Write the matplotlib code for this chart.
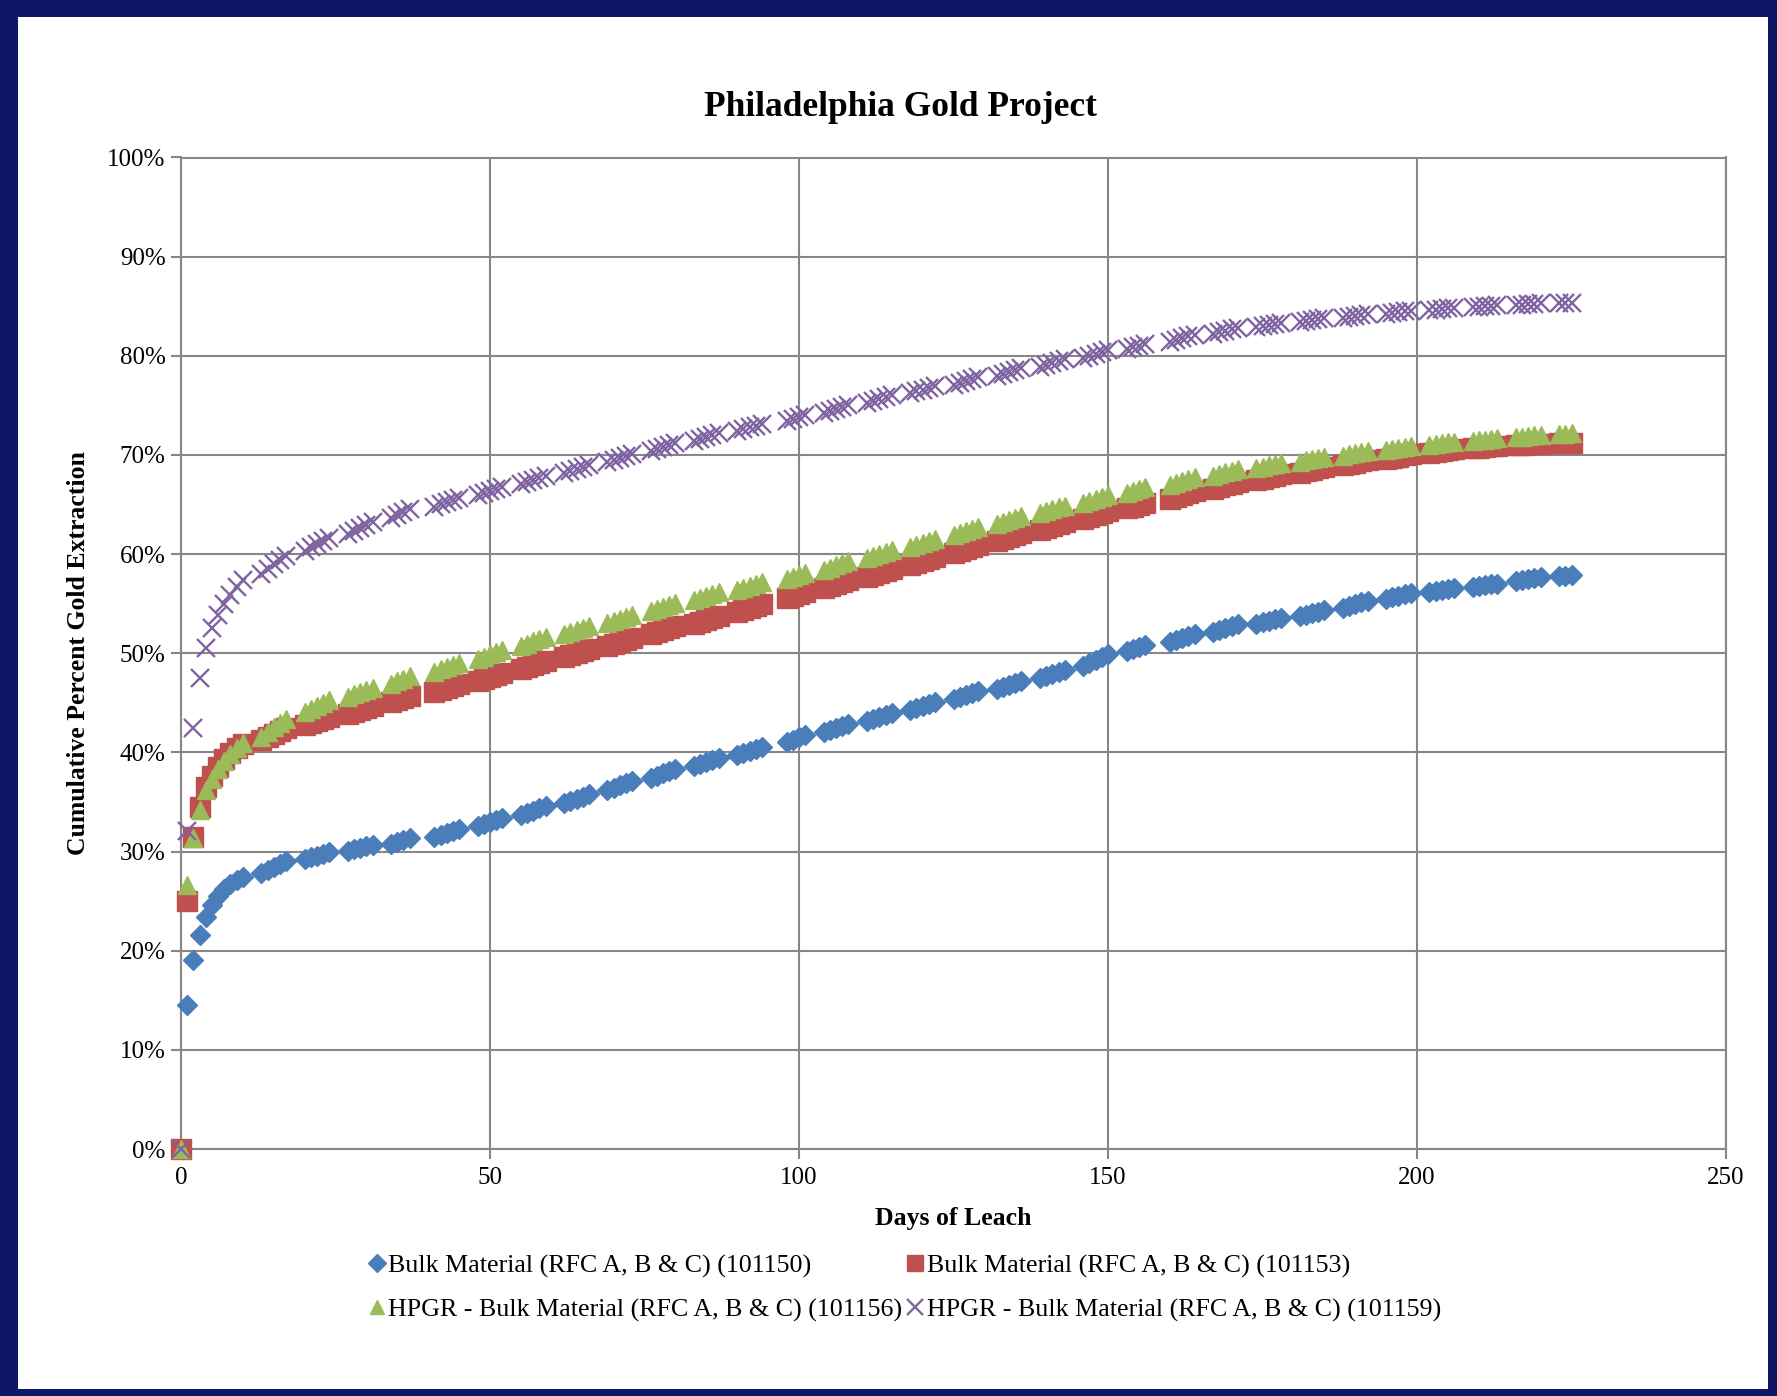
import matplotlib.pyplot as plt
from matplotlib.patches import Rectangle
from matplotlib.ticker import MultipleLocator, FuncFormatter

# Days of leach (same schedule for all four columns)
days = [
    0, 1, 2, 3, 4, 5, 6, 7, 8, 9, 10,
    13, 14, 15, 16, 17,
    20, 21, 22, 23, 24,
    27, 28, 29, 30, 31,
    34, 35, 36, 37,
    41, 42, 43, 44, 45,
    48, 49, 50, 51, 52,
    55, 56, 57, 58, 59,
    62, 63, 64, 65, 66,
    69, 70, 71, 72, 73,
    76, 77, 78, 79, 80,
    83, 84, 85, 86, 87,
    90, 91, 92, 93, 94,
    98, 99, 100, 101,
    104, 105, 106, 107, 108,
    111, 112, 113, 114, 115,
    118, 119, 120, 121, 122,
    125, 126, 127, 128, 129,
    132, 133, 134, 135, 136,
    139, 140, 141, 142, 143,
    146, 147, 148, 149, 150,
    153, 154, 155, 156,
    160, 161, 162, 163, 164,
    167, 168, 169, 170, 171,
    174, 175, 176, 177, 178,
    181, 182, 183, 184, 185,
    188, 189, 190, 191, 192,
    195, 196, 197, 198, 199,
    202, 203, 204, 205, 206,
    209, 210, 211, 212, 213,
    216, 217, 218, 219, 220,
    223, 224, 225,
]

# Cumulative percent gold extraction, column 101150
bulk_101150 = [
    0.0, 14.5, 19.1, 21.6, 23.4, 24.6, 25.5, 26.2, 26.7, 27.1, 27.4,
    27.8, 28.1, 28.4, 28.7, 29.0,
    29.2, 29.4, 29.6, 29.8, 30.0,
    30.1, 30.3, 30.4, 30.6, 30.7,
    30.8, 31.0, 31.2, 31.4,
    31.5, 31.7, 31.9, 32.1, 32.3,
    32.6, 32.8, 33.0, 33.2, 33.4,
    33.7, 33.9, 34.1, 34.4, 34.6,
    34.9, 35.1, 35.3, 35.5, 35.8,
    36.2, 36.4, 36.7, 36.9, 37.1,
    37.4, 37.6, 37.9, 38.1, 38.3,
    38.6, 38.8, 39.0, 39.2, 39.4,
    39.7, 39.9, 40.1, 40.3, 40.5,
    41.0, 41.3, 41.6, 41.8,
    42.1, 42.3, 42.5, 42.7, 42.9,
    43.2, 43.4, 43.6, 43.8, 44.0,
    44.3, 44.5, 44.7, 44.9, 45.1,
    45.4, 45.6, 45.8, 46.0, 46.2,
    46.4, 46.6, 46.8, 47.0, 47.2,
    47.5, 47.7, 47.9, 48.1, 48.3,
    48.7, 49.0, 49.3, 49.6, 49.9,
    50.2, 50.4, 50.6, 50.8,
    51.1, 51.3, 51.5, 51.7, 51.9,
    52.1, 52.3, 52.5, 52.7, 52.9,
    53.0, 53.2, 53.3, 53.5, 53.6,
    53.8, 53.9, 54.1, 54.2, 54.4,
    54.6, 54.8, 55.0, 55.2, 55.3,
    55.5, 55.7, 55.8, 56.0, 56.1,
    56.2, 56.3, 56.4, 56.5, 56.6,
    56.7, 56.8, 56.9, 57.0, 57.0,
    57.3, 57.4, 57.5, 57.6, 57.7,
    57.8, 57.8, 57.9,
]

# column 101153
bulk_101153 = [
    0.0, 25.0, 31.5, 34.5, 36.5, 37.6, 38.5, 39.3, 39.9, 40.4, 40.8,
    41.3, 41.6, 41.9, 42.2, 42.5,
    42.8, 43.0, 43.2, 43.4, 43.6,
    43.9, 44.1, 44.3, 44.5, 44.7,
    45.1, 45.3, 45.5, 45.7,
    46.1, 46.3, 46.5, 46.7, 46.9,
    47.2, 47.4, 47.6, 47.8, 48.0,
    48.4, 48.6, 48.8, 49.0, 49.2,
    49.6, 49.8, 50.0, 50.2, 50.4,
    50.7, 50.9, 51.1, 51.3, 51.5,
    51.9, 52.1, 52.3, 52.5, 52.7,
    53.0, 53.2, 53.4, 53.6, 53.8,
    54.2, 54.4, 54.6, 54.8, 55.0,
    55.6, 55.8, 56.0, 56.2,
    56.6, 56.8, 57.0, 57.2, 57.4,
    57.7, 57.9, 58.1, 58.3, 58.5,
    58.9, 59.1, 59.3, 59.5, 59.7,
    60.1, 60.3, 60.5, 60.7, 60.9,
    61.3, 61.5, 61.7, 61.9, 62.1,
    62.4, 62.6, 62.8, 63.0, 63.2,
    63.5, 63.7, 63.9, 64.1, 64.3,
    64.6, 64.8, 65.0, 65.2,
    65.6, 65.8, 66.0, 66.2, 66.4,
    66.6, 66.8, 67.0, 67.1, 67.3,
    67.5, 67.6, 67.8, 67.9, 68.1,
    68.2, 68.4, 68.5, 68.7, 68.8,
    69.0, 69.1, 69.2, 69.4, 69.5,
    69.6, 69.7, 69.8, 70.0, 70.1,
    70.2, 70.3, 70.4, 70.5, 70.6,
    70.7, 70.7, 70.8, 70.9, 70.9,
    71.0, 71.0, 71.1, 71.1, 71.1,
    71.2, 71.2, 71.2,
]

# column 101156 (HPGR)
hpgr_101156 = [
    0.0, 26.6, 31.4, 34.2, 36.2, 37.3, 38.3, 39.1, 39.8, 40.4, 40.9,
    41.6, 42.1, 42.6, 43.0, 43.4,
    44.1, 44.4, 44.7, 45.0, 45.3,
    45.6, 45.9, 46.1, 46.3, 46.5,
    46.9, 47.2, 47.4, 47.7,
    48.1, 48.4, 48.6, 48.8, 49.0,
    49.4, 49.6, 49.9, 50.1, 50.3,
    50.7, 50.9, 51.2, 51.4, 51.6,
    51.9, 52.1, 52.3, 52.5, 52.7,
    53.1, 53.3, 53.5, 53.7, 53.9,
    54.3, 54.5, 54.7, 54.9, 55.1,
    55.4, 55.6, 55.8, 56.0, 56.2,
    56.4, 56.6, 56.8, 57.0, 57.2,
    57.5, 57.7, 57.9, 58.1,
    58.4, 58.6, 58.9, 59.1, 59.3,
    59.6, 59.8, 60.0, 60.2, 60.4,
    60.7, 60.9, 61.1, 61.3, 61.5,
    61.9, 62.1, 62.3, 62.5, 62.7,
    63.0, 63.2, 63.4, 63.6, 63.8,
    64.1, 64.3, 64.5, 64.7, 64.9,
    65.2, 65.4, 65.6, 65.8, 66.0,
    66.2, 66.4, 66.6, 66.8,
    67.0, 67.2, 67.4, 67.6, 67.8,
    67.9, 68.1, 68.3, 68.4, 68.6,
    68.7, 68.8, 69.0, 69.1, 69.2,
    69.3, 69.5, 69.6, 69.7, 69.8,
    69.9, 70.1, 70.2, 70.3, 70.4,
    70.5, 70.6, 70.7, 70.8, 70.9,
    71.0, 71.1, 71.2, 71.3, 71.3,
    71.4, 71.5, 71.5, 71.6, 71.7,
    71.8, 71.8, 71.9, 72.0, 72.0,
    72.1, 72.1, 72.2,
]

# column 101159 (HPGR)
hpgr_101159 = [
    0.0, 32.1, 42.5, 47.5, 50.5, 52.5, 53.9, 55.0, 55.9, 56.7, 57.4,
    58.0, 58.5, 59.0, 59.4, 59.8,
    60.3, 60.7, 61.0, 61.3, 61.6,
    62.0, 62.3, 62.6, 62.9, 63.2,
    63.6, 63.9, 64.2, 64.5,
    64.8, 65.1, 65.3, 65.5, 65.7,
    66.0, 66.2, 66.4, 66.6, 66.8,
    67.1, 67.3, 67.5, 67.7, 67.9,
    68.2, 68.4, 68.6, 68.8, 69.0,
    69.3, 69.5, 69.7, 69.9, 70.1,
    70.4, 70.6, 70.8, 71.0, 71.2,
    71.4, 71.6, 71.8, 72.0, 72.2,
    72.4, 72.6, 72.8, 72.9, 73.1,
    73.4, 73.6, 73.8, 74.0,
    74.2, 74.4, 74.6, 74.8, 75.0,
    75.2, 75.4, 75.6, 75.8, 76.0,
    76.2, 76.4, 76.6, 76.8, 77.0,
    77.1, 77.3, 77.5, 77.7, 77.9,
    78.0, 78.2, 78.4, 78.6, 78.8,
    78.9, 79.1, 79.3, 79.5, 79.7,
    79.8, 80.0, 80.2, 80.4, 80.6,
    80.7, 80.9, 81.0, 81.2,
    81.4, 81.6, 81.8, 82.0, 82.1,
    82.2, 82.4, 82.5, 82.7, 82.8,
    82.9, 83.0, 83.1, 83.2, 83.3,
    83.4, 83.5, 83.6, 83.7, 83.8,
    83.8, 83.9, 84.0, 84.1, 84.2,
    84.2, 84.3, 84.4, 84.5, 84.5,
    84.6, 84.6, 84.7, 84.8, 84.8,
    84.9, 84.9, 85.0, 85.0, 85.1,
    85.1, 85.1, 85.2, 85.2, 85.3,
    85.3, 85.3, 85.3,
]

labels = [
    "Bulk Material (RFC A, B & C) (101150)",
    "Bulk Material (RFC A, B & C) (101153)",
    "HPGR - Bulk Material (RFC A, B & C) (101156)",
    "HPGR - Bulk Material (RFC A, B & C) (101159)",
]

plt.rcParams['font.family'] = ['Liberation Serif', 'DejaVu Serif']

W, H = 1777, 1396
fig = plt.figure(figsize=(W / 100, H / 100), dpi=100)
fig.patch.set_facecolor('#0e1766')

# white slide panel behind the chart
fig.patches.append(Rectangle((18 / W, 1 - 1389 / H), (1768 - 18) / W, (1389 - 17) / H,
                             transform=fig.transFigure, facecolor='white',
                             edgecolor='none', zorder=-5))

ax = fig.add_axes([181 / W, 1 - 1149 / H, (1726 - 181) / W, (1149 - 157.5) / H])
ax.set_facecolor('white')

grid_c = '#878787'
h0, = ax.plot(days, bulk_101150, linestyle='none', marker='D', ms=10.5,
              color='#4a7ebb', mec='#4a7ebb', clip_on=False, zorder=3)
h1, = ax.plot(days, bulk_101153, linestyle='none', marker='s', ms=14,
              color='#c0504d', mec='#c0504d', clip_on=False, zorder=4)
h2, = ax.plot(days, hpgr_101156, linestyle='none', marker='^', ms=12.5,
              color='#9bbb59', mec='#9bbb59', clip_on=False, zorder=5)
h3, = ax.plot(days, hpgr_101159, linestyle='none', marker='x', ms=13,
              mew=1.7, color='#8064a2', clip_on=False, zorder=6)

ax.set_xlim(0, 250)
ax.set_ylim(0, 100)
ax.xaxis.set_major_locator(MultipleLocator(50))
ax.yaxis.set_major_locator(MultipleLocator(10))
ax.yaxis.set_major_formatter(FuncFormatter(lambda v, p: f"{v:.0f}%"))
ax.grid(True, color=grid_c, linewidth=1.5, zorder=1)
ax.set_axisbelow(True)
for s in ax.spines.values():
    s.set_color(grid_c)
    s.set_linewidth(1.5)
ax.tick_params(axis='both', direction='out', length=7, width=1.5, color=grid_c,
               labelsize=18, labelcolor='black')
ax.tick_params(axis='x', pad=6)
ax.tick_params(axis='y', pad=4)

fig.text(0.5065, 1 - 107 / H, "Philadelphia Gold Project", ha='center', va='center',
         fontsize=25.5, fontweight='bold')
fig.text(953 / W, 1 - 1218 / H, "Days of Leach", ha='center', va='center',
         fontsize=18.5, fontweight='bold')
fig.text(79 / W, 1 - 653 / H, "Cumulative Percent Gold Extraction", ha='center',
         va='center', rotation=90, fontsize=18.5, fontweight='bold')

# legend reads row-wise in the original, matplotlib fills column-wise
leg = fig.legend([h0, h2, h1, h3], [labels[0], labels[2], labels[1], labels[3]],
                 loc='center', bbox_to_anchor=(905 / W, 1 - 1288 / H),
                 ncol=2, frameon=False, fontsize=18.7, handlelength=0.6,
                 handletextpad=0.15, columnspacing=0.2, labelspacing=0.8,
                 markerscale=0.85, borderpad=0)

fig.savefig('out.png', dpi=100, facecolor=fig.get_facecolor())
